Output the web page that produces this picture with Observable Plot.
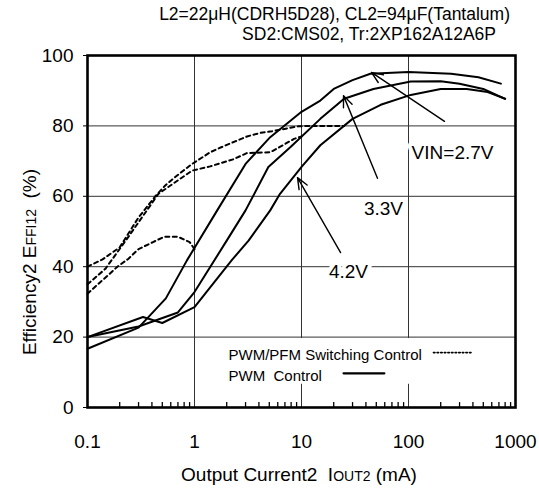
<!DOCTYPE html>
<html><head><meta charset="utf-8">
<script src="https://cdn.jsdelivr.net/npm/d3@7"></script>
<script src="https://cdn.jsdelivr.net/npm/@observablehq/plot@0.6"></script>
<style>
html,body{margin:0;padding:0;background:#fff;}
svg text{white-space:pre;}
</style>
</head><body><div id="chart"></div>
<script>
// ---- Data ----
// PWM control (solid)
const pwm27X = [0.1, 0.3, 0.54, 0.85, 1.63, 3, 5.1, 10, 15, 20, 30, 44, 100, 250, 450, 730];
const pwm27Y = [16.7, 22.7, 31, 41.8, 56, 69.2, 76.8, 84, 87.2, 90.5, 93, 94.8, 95.3, 94.8, 93.8, 92];
const pwm33X = [0.1, 0.3, 0.7, 1, 2, 3, 4.9, 7.9, 15, 25, 47, 105, 200, 300, 500, 800];
const pwm33Y = [20, 23, 27, 32.8, 47.4, 56, 68.3, 74, 82, 87.7, 90.5, 92.6, 92.7, 92, 90.5, 87.7];
const pwm42X = [0.1, 0.33, 0.5, 1, 2.25, 3.2, 5.1, 6.3, 10.1, 15, 30, 55, 105, 200, 350, 550, 800];
const pwm42Y = [20, 25.7, 24, 28.5, 42, 47.4, 56, 60.7, 68.5, 74.5, 82, 86, 88.8, 90.5, 90.5, 89.6, 87.7];
// PWM/PFM switching control (dotted)
const pfm27X = [0.1, 0.125, 0.155, 0.19, 0.24, 0.3, 0.41, 0.52, 0.7, 0.9, 1.0];
const pfm27Y = [32.3, 35, 37.5, 40, 42.2, 45, 47, 48.5, 48.5, 47, 45];
const pfm33X = [0.1, 0.147, 0.24, 0.46, 0.66, 0.95, 1.4, 2.3, 3.1, 5.1, 6.6, 8.5, 10];
const pfm33Y = [35, 39.4, 48.4, 60.7, 64, 67.3, 68.5, 70.5, 72.3, 72.5, 74.4, 76.3, 77];
const pfm42X = [0.1, 0.137, 0.2, 0.3, 0.43, 0.53, 0.66, 0.95, 1.4, 1.8, 2.4, 3.1, 4.1, 5.3, 7.1, 9.4, 12, 25];
const pfm42Y = [40, 42, 45.5, 54, 60, 63, 65.5, 69.2, 72.5, 74, 75.6, 77, 78, 78.5, 79.2, 79.9, 80, 80];

// Axis ticks
const xTicks = [0.1, 1, 10, 100, 1000];
const xTickLabels = ["0.1", "1", "10", "100", "1000"];
const xGrid = [1, 10, 100];
const yTicks = [0, 20, 40, 60, 80, 100];
const yGrid = [20, 40, 60, 80];
const minorTicks = [0.1, 1, 10, 100].flatMap(d => [2,3,4,5,6,7,8,9].map(k => d * k));

// Annotations
const noteText = ["VIN=2.7V", "3.3V", "4.2V"];
const noteX = [258, 58.4, 27.5];
const noteY = [72.4, 56.5, 38.4];
const arrowX1 = [217, 51.3, 23.2];
const arrowY1 = [81.3, 65.1, 44];
const arrowX2 = [45.1, 24.7, 9.18];
const arrowY2 = [95.2, 88.6, 65.3];

// Legend
const legendText = ["PWM/PFM Switching Control", "PWM  Control"];
const legendTextX = [2.08, 2.08];
const legendTextY = [14.8, 8.8];
const legendDotX = [171, 396];
const legendDotY = [15.6, 15.6];
const legendSolidX = [24.7, 59.5];
const legendSolidY = [9.7, 9.7];
const legendBox = [{x1: 1.85, x2: 600, y1: 6.6, y2: 19.6}];

// ---- Build tables ----
const rows = (name, xs, ys) => xs.map((x, i) => ({series: name, x, y: ys[i]}));
const solidRows = [...rows("2.7", pwm27X, pwm27Y), ...rows("3.3", pwm33X, pwm33Y), ...rows("4.2", pwm42X, pwm42Y)];
const dashRows = [...rows("2.7", pfm27X, pfm27Y), ...rows("3.3", pfm33X, pfm33Y), ...rows("4.2", pfm42X, pfm42Y)];
const notes = noteText.map((t, i) => ({t, x: noteX[i], y: noteY[i]}));
const arrows = arrowX1.map((x1, i) => ({x1, y1: arrowY1[i], x2: arrowX2[i], y2: arrowY2[i]}));
const legendLabels = legendText.map((t, i) => ({t, x: legendTextX[i], y: legendTextY[i]}));
const legendDot = rows("dot", legendDotX, legendDotY);
const legendSolid = rows("solid", legendSolidX, legendSolidY);

const font = "'Liberation Sans', Arial, Helvetica, sans-serif";

const chart = Plot.plot({
  width: 539, height: 488,
  marginLeft: 87, marginRight: 24, marginTop: 55, marginBottom: 81,
  style: {fontFamily: font, fontSize: "19px", color: "black", background: "white", overflow: "visible"},
  x: {type: "log", domain: [0.1, 1000]},
  y: {domain: [0, 100]},
  marks: [
    Plot.gridX(xGrid, {stroke: "#333", strokeOpacity: 1, strokeWidth: 1}),
    Plot.gridY(yGrid, {stroke: "#333", strokeOpacity: 1, strokeWidth: 1}),
    Plot.rect(legendBox, {x1: "x1", x2: "x2", y1: "y1", y2: "y2", fill: "white"}),
    Plot.ruleX(minorTicks, {y1: 0, y2: 1.4, stroke: "black", strokeWidth: 1.3}),
    Plot.line(dashRows, {x: "x", y: "y", z: "series", stroke: "black", strokeWidth: 2, strokeDasharray: "4,3.5"}),
    Plot.line(solidRows, {x: "x", y: "y", z: "series", stroke: "black", strokeWidth: 2}),
    Plot.arrow(arrows, {x1: "x1", y1: "y1", x2: "x2", y2: "y2", stroke: "black", strokeWidth: 1.4, headAngle: 45, headLength: 13}),
    Plot.text(notes, {x: "x", y: "y", text: "t", fontSize: 19, fill: "black", stroke: "white", strokeWidth: 8}),
    Plot.line(legendDot, {x: "x", y: "y", stroke: "black", strokeWidth: 1.6, strokeDasharray: "1.6,2"}),
    Plot.line(legendSolid, {x: "x", y: "y", stroke: "black", strokeWidth: 2.2}),
    Plot.text(legendLabels, {x: "x", y: "y", text: "t", textAnchor: "start", fontSize: 15, fill: "black"}),
    Plot.frame({stroke: "black", strokeWidth: 2.6}),
    Plot.axisX({ticks: xTicks, tickFormat: d => xTickLabels[xTicks.indexOf(d)], tickSize: 0, tickPadding: 27, label: null}),
    Plot.axisY({ticks: yTicks, tickSize: 4, tickPadding: 10, label: null})
  ]
});
document.getElementById("chart").appendChild(chart);

// Titles and axis labels (with small-caps subscripts)
const svg = d3.select(chart);
svg.append("text").attr("x", 510).attr("y", 20).attr("text-anchor", "end")
  .attr("font-family", font).attr("font-size", 17.5).text("L2=22\u03bcH(CDRH5D28), CL2=94\u03bcF(Tantalum)");
svg.append("text").attr("x", 496).attr("y", 40).attr("text-anchor", "end")
  .attr("font-family", font).attr("font-size", 17.5).text("SD2:CMS02, Tr:2XP162A12A6P");

const xl = svg.append("text").attr("x", 299).attr("y", 481).attr("text-anchor", "middle")
  .attr("font-family", font).attr("font-size", 19);
xl.append("tspan").text("Output Current2  I");
xl.append("tspan").attr("font-size", 14).text("OUT2");
xl.append("tspan").text(" (mA)");

const yl = svg.append("text").attr("transform", "translate(36,262) rotate(-90)").attr("text-anchor", "middle")
  .attr("font-family", font).attr("font-size", 19);
yl.append("tspan").text("Efficiency2 E");
yl.append("tspan").attr("font-size", 14).text("FFI12");
yl.append("tspan").text("  (%)");
</script>
</body></html>
